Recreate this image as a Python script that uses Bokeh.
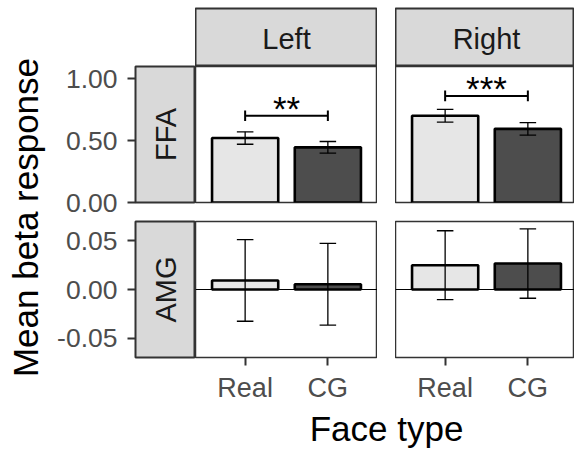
import numpy as np
from bokeh.plotting import figure
from bokeh.layouts import row, column
from bokeh.models import Range1d, FixedTicker, NumeralTickFormatter, Span, Spacer, ColumnDataSource
from bokeh.core.properties import value
from bokeh.embed import file_html
from bokeh.resources import INLINE

# ---------------- data ----------------
hemispheres = ["Left", "Right"]
regions = ["FFA", "AMG"]
face_types = ["Real", "CG"]

ffa_left_mean = [0.520, 0.445]
ffa_left_se = [0.050, 0.047]
ffa_right_mean = [0.700, 0.594]
ffa_right_se = [0.051, 0.051]
amg_left_mean = [0.0093, 0.0054]
amg_left_se = [0.0420, 0.0420]
amg_right_mean = [0.0250, 0.0267]
amg_right_se = [0.0355, 0.0357]

sig_labels = ["**", "***"]          # Left, Right (FFA: Real vs CG)
sig_heights = [0.70, 0.86]

ffa_ticks = [0.0, 0.5, 1.0]
amg_ticks = [-0.05, 0.0, 0.05]
ffa_limits = (0.0, 1.097)
amg_limits = (-0.07, 0.07)

# ---------------- style ----------------
FONT = "Liberation Sans"
BAR_FILL = ["#e6e6e6", "#4d4d4d"]
STRIP_FILL = "#d9d9d9"
DARK = "#333333"

TOTAL_W, TOTAL_H = 574, 449
# layout (px)
STRIP_TOP = 8
STRIP_H = 58
PANEL_H = 136
GAP_V_TOP = 10
GAP_V_BOT = 9
XAXIS_H = 48
YLAB_W = 50
AXIS_W = 85
RSTRIP_W = 60
PANEL_W = 182
GAP_H = 18
LEFT_W = AXIS_W + RSTRIP_W
PANEL_W_R = TOTAL_W - (YLAB_W + LEFT_W + PANEL_W + GAP_H)
PX_PER_UNIT = PANEL_W / 2.2
XR_LEFT = (-0.6, 1.6)
XR_RIGHT = (-0.6, -0.6 + PANEL_W_R / PX_PER_UNIT)
xpos = list(range(len(face_types)))

H1 = STRIP_TOP + STRIP_H
H2 = PANEL_H + GAP_V_TOP
H3 = GAP_V_BOT + PANEL_H + XAXIS_H
HX = TOTAL_H - H1 - H2 - H3
XTITLE_MID = 427.5          # vertical centre of the x title on the page


def base_fig(w, h, xr, yr, l=0, r=0, t=0, b=0, x_axis=False, y_axis=False):
    p = figure(width=w, height=h, x_range=Range1d(*xr), y_range=Range1d(*yr),
               min_border_left=l, min_border_right=r, min_border_top=t, min_border_bottom=b,
               x_axis_type="linear" if x_axis else None,
               y_axis_type="linear" if y_axis else None,
               output_backend="svg", toolbar_location=None, tools="")
    p.grid.visible = False
    p.border_fill_color = "white"
    p.background_fill_color = "white"
    p.outline_line_color = None
    return p


def style_axis(ax, size):
    ax.axis_line_color = None
    ax.major_tick_out = 8
    ax.major_tick_in = 0
    ax.minor_tick_line_color = None
    ax.major_tick_line_color = DARK
    ax.major_tick_line_width = 2
    ax.major_label_text_font = FONT
    ax.major_label_text_font_size = size
    ax.major_label_text_color = "#4d4d4d"


def top_strip(label, w, xr):
    p = base_fig(w, H1, xr, (0, 1), t=STRIP_TOP)
    p.background_fill_color = STRIP_FILL
    p.outline_line_color = DARK
    p.outline_line_width = 2
    p.text(x=[np.mean(xpos)], y=[0.5], text=[label], text_align="center", text_baseline="middle",
           text_font=value(FONT), text_font_size="29px", text_color="#1a1a1a", y_offset=1.5)
    return p


def row_strip(label, h, limits, ticks, t, b):
    p = base_fig(LEFT_W, h, (0, 1), limits, l=AXIS_W, t=t, b=b, y_axis=True)
    p.background_fill_color = STRIP_FILL
    p.outline_line_color = DARK
    p.outline_line_width = 2
    ax = p.yaxis[0]
    ax.ticker = FixedTicker(ticks=ticks)
    ax.formatter = NumeralTickFormatter(format="0.00")
    ax.major_label_standoff = 10
    style_axis(ax, "26.5px")
    p.text(x=[0.5], y=[np.mean(limits)], text=[label], angle=np.pi / 2, text_align="center",
           text_baseline="middle", text_font=value(FONT), text_font_size="29px", text_color="#1a1a1a")
    return p


def panel(w, h, xr, limits, means, ses, t, b, x_axis=False, zero_line=False, sig=None):
    p = base_fig(w, h, xr, limits, t=t, b=b, x_axis=x_axis)
    p.outline_line_color = DARK
    p.outline_line_width = 1.5
    if zero_line:
        p.add_layout(Span(location=0, dimension="width", line_color="black", line_width=1.2))
    means = np.array(means)
    ses = np.array(ses)
    src = ColumnDataSource(dict(x=xpos, top=means, fill=BAR_FILL,
                                lo=means - ses, hi=means + ses,
                                xl=np.array(xpos) - 0.1, xr=np.array(xpos) + 0.1))
    p.vbar(x="x", top="top", bottom=0, width=0.8, source=src, fill_color="fill",
           line_color="black", line_width=2.6)
    p.segment(x0="x", y0="lo", x1="x", y1="hi", source=src, line_color="black", line_width=1.3)
    p.segment(x0="xl", y0="hi", x1="xr", y1="hi", source=src, line_color="black", line_width=1.3)
    p.segment(x0="xl", y0="lo", x1="xr", y1="lo", source=src, line_color="black", line_width=1.3)
    if sig is not None:
        lab, yy = sig
        tick_h = 0.043 * (limits[1] - limits[0]) / 1.097
        p.segment(x0=[xpos[0]], y0=[yy], x1=[xpos[1]], y1=[yy], line_color="black", line_width=2)
        p.segment(x0=xpos, y0=[yy - tick_h] * 2, x1=xpos, y1=[yy + tick_h] * 2,
                  line_color="black", line_width=2)
        p.text(x=[np.mean(xpos)], y=[yy], text=[lab], text_align="center", text_baseline="middle",
               text_font=value(FONT), text_font_size="35px", text_color="black", y_offset=-7)
    if x_axis:
        ax = p.xaxis[0]
        ax.ticker = FixedTicker(ticks=xpos)
        ax.major_label_overrides = {i: f for i, f in zip(xpos, face_types)}
        ax.major_label_standoff = 7
        style_axis(ax, "27px")
    return p


# ---- column B: y axes + row strips (own vertical split, so tick labels have room) ----
FFA_BOT = 16
AMG_TOP = GAP_V_TOP + GAP_V_BOT - FFA_BOT
col_b = column(
    row_strip(regions[0], H1 + PANEL_H + FFA_BOT, ffa_limits, ffa_ticks, H1, FFA_BOT),
    row_strip(regions[1], AMG_TOP + PANEL_H + XAXIS_H + HX, amg_limits, amg_ticks, AMG_TOP, XAXIS_H + HX),
    spacing=0)

# ---- column C: Left hemisphere ----
col_c = column(
    top_strip(hemispheres[0], PANEL_W, XR_LEFT),
    panel(PANEL_W, H2, XR_LEFT, ffa_limits, ffa_left_mean, ffa_left_se, 0, GAP_V_TOP,
          sig=(sig_labels[0], sig_heights[0])),
    panel(PANEL_W, H3, XR_LEFT, amg_limits, amg_left_mean, amg_left_se, GAP_V_BOT, XAXIS_H,
          x_axis=True, zero_line=True),
    spacing=0)

# ---- column E: Right hemisphere ----
col_e = column(
    top_strip(hemispheres[1], PANEL_W_R, XR_RIGHT),
    panel(PANEL_W_R, H2, XR_RIGHT, ffa_limits, ffa_right_mean, ffa_right_se, 0, GAP_V_TOP,
          sig=(sig_labels[1], sig_heights[1])),
    panel(PANEL_W_R, H3, XR_RIGHT, amg_limits, amg_right_mean, amg_right_se, GAP_V_BOT, XAXIS_H,
          x_axis=True, zero_line=True),
    spacing=0)

# ---- x title ----
XW = TOTAL_W - YLAB_W - LEFT_W
xlab = base_fig(XW, HX, (0, XW), (0, HX))
xlab.text(x=[(PANEL_W + GAP_H + PANEL_W) / 2], y=[TOTAL_H - XTITLE_MID], text=["Face type"],
          text_align="center", text_baseline="middle", text_font=value(FONT),
          text_font_size="35px", text_color="black")

panels_block = column(row(col_c, Spacer(width=GAP_H, height=H1 + H2 + H3), col_e, spacing=0),
                      xlab, spacing=0)

# ---- y title (full height column) ----
ylab = base_fig(YLAB_W, TOTAL_H, (0, YLAB_W), (0, TOTAL_H))
ylab.text(x=[25], y=[TOTAL_H - 217], text=["Mean beta response"], angle=np.pi / 2,
          text_align="center", text_baseline="middle", text_font=value(FONT),
          text_font_size="35px", text_color="black")

layout = row(ylab, col_b, panels_block, spacing=0)

open("out.html", "w").write(file_html(layout, INLINE))
